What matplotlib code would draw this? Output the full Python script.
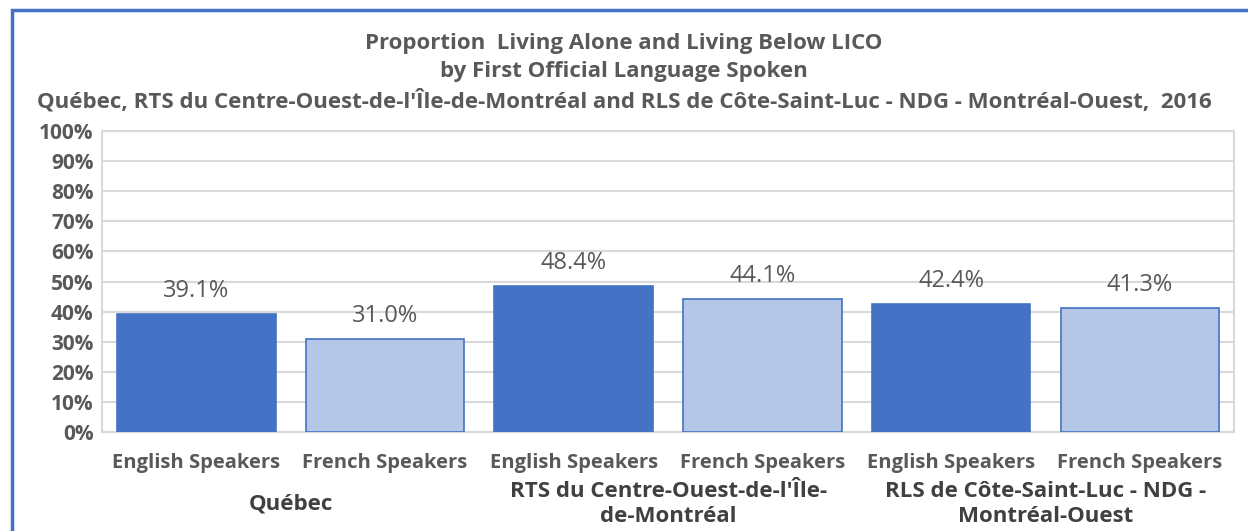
import numpy as np
import matplotlib.pyplot as plt
from matplotlib.patches import Rectangle
from matplotlib.ticker import PercentFormatter

plt.rcParams['font.family'] = ['Open Sans', 'DejaVu Sans']

# données
sous_cat = ["English Speakers", "French Speakers"] * 3
groupes = ["Québec",
           "RTS du Centre-Ouest-de-l'Île-\nde-Montréal",
           "RLS de Côte-Saint-Luc - NDG -\nMontréal-Ouest"]
valeurs = [39.1, 31.0, 48.4, 44.1, 42.4, 41.3]

bleu = '#4472C4'
bleu_clair = '#B4C7E7'
gris = '#595959'

fig = plt.figure(figsize=(12.48, 5.31), dpi=100)
ax = fig.add_axes([0.0817, 0.1864, 0.9073, 0.5669])

# cadre bleu du graphique
fig.patches.append(Rectangle((12 / 1248, -0.1), 1.2, 1 - 10 / 531 + 0.1,
                             transform=fig.transFigure, fill=False,
                             edgecolor=bleu, linewidth=2.5))

x = np.arange(len(valeurs))
couleurs = [bleu, bleu_clair] * 3
barres = ax.bar(x, valeurs, width=0.84, color=couleurs, edgecolor=bleu,
                linewidth=1.2, zorder=3)
for b, v in zip(barres, valeurs):
    ax.annotate(f"{v:.1f}%", (b.get_x() + b.get_width() / 2, v),
                xytext=(0, 8), textcoords='offset points', ha='center',
                va='bottom', fontsize=17, color=gris)

ax.set_xlim(-0.5, 5.5)
ax.set_ylim(0, 100)
ax.set_yticks(np.arange(0, 101, 10))
ax.yaxis.set_major_formatter(PercentFormatter(decimals=0))
ax.grid(axis='y', color='#D9D9D9', linewidth=1.5, zorder=0)
for s in ax.spines.values():
    s.set_color('#D9D9D9')
    s.set_linewidth(1.5)
ax.tick_params(length=0, labelsize=15, labelcolor=gris)
ax.tick_params(axis='y', pad=6)
for lab in ax.get_yticklabels():
    lab.set_fontweight('bold')
ax.set_xticks(x)
ax.set_xticklabels(sous_cat, fontsize=14.5, fontweight='bold', color=gris)
ax.tick_params(axis='x', pad=15)

trans = ax.get_xaxis_transform()
for i, g in enumerate(groupes):
    ax.text(2 * i + 0.5, -0.24, g, transform=trans, ha='center', va='center',
            fontsize=16, fontweight='bold', color='#404040',
            linespacing=1.25)

fig.text(0.5, 1 - 43 / 531, "Proportion  Living Alone and Living Below LICO",
         ha='center', va='center', fontsize=16, fontweight='bold', color=gris)
fig.text(0.5, 1 - 71 / 531, "by First Official Language Spoken",
         ha='center', va='center', fontsize=16, fontweight='bold', color=gris)
fig.text(0.5, 1 - 101 / 531,
         "Québec, RTS du Centre-Ouest-de-l'Île-de-Montréal and RLS de Côte-Saint-Luc - NDG - Montréal-Ouest,  2016",
         ha='center', va='center', fontsize=16, fontweight='bold', color=gris)

fig.savefig('out.png', dpi=100)
